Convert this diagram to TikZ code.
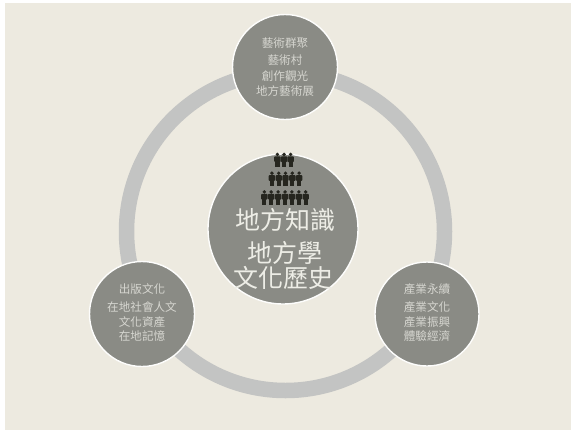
\documentclass[tikz,border=0pt]{standalone}
\usepackage{fontspec}
\usetikzlibrary{calc}
\newfontfamily\cjk{Noto Sans CJK TC}
\definecolor{pagebg}{HTML}{EDEAE0}
\definecolor{ringgray}{HTML}{C3C4C3}
\definecolor{discgray}{HTML}{8A8B85}
\definecolor{smalltext}{HTML}{D6D6D0}
\definecolor{bigtext}{HTML}{EDEDE6}
\definecolor{peoplecol}{HTML}{26261F}
\tikzset{
  x=1pt,y=-1pt,
  ringline/.style={draw=ringgray,line width=15.5pt,fill=none,circle,inner sep=0pt,minimum size=318pt},
  disc/.style={circle,draw=white!90!pagebg,line width=1.4pt,fill=discgray,inner sep=0pt,minimum size=#1},
  smalllabel/.style={font=\cjk\fontsize{11.6}{14}\selectfont,text=smalltext,inner sep=0pt},
  biglabel/.style={font=\cjk\fontsize{25}{30}\selectfont,text=bigtext,inner sep=0pt},
  person/.pic={
    \fill[peoplecol] (0,-5.6) circle (1.9);
    \fill[peoplecol,rounded corners=0.8] (-3.2,-3.6) rectangle (3.2,2);
    \fill[peoplecol] (-2.1,1) rectangle (2.1,7.4);
  }
}
\begin{document}
\begin{tikzpicture}
\useasboundingbox (0,0) rectangle (572,431);
\fill[white] (0,0) rectangle (572,431);
\fill[pagebg] (5,3) rectangle (571,430);
\node[ringline] (ring) at (285.5,231.5) {};
\node[disc=105pt] (top) at (285,67) {};
\node[disc=105pt] (left) at (142,314) {};
\node[disc=104pt] (right) at (427,314) {};
\node[disc=150pt] (hub) at (283,229) {};
% people
\foreach \i in {-1,0,1} \pic at ($(284,160)+(\i*6.6,0)$) {person};
\foreach \i in {-2,...,2} \pic at ($(285.5,178.8)+(\i*6.8,0)$) {person};
\foreach \i in {-3,...,3} \pic at ($(285,197.5)+(\i*6.9,0)$) {person};
% hub text
\node[biglabel] (h1) at (285,220) {地方知識};
\node[biglabel] (h2) at (285,253) {地方學};
\node[biglabel] (h3) at (283,278) {文化歷史};
% top
\node[smalllabel] (t1) at (285,43) {藝術群聚};
\node[smalllabel] (t2) at (285,60) {藝術村};
\node[smalllabel] (t3) at (285,76) {創作觀光};
\node[smalllabel] (t4) at (285,91) {地方藝術展};
% left
\node[smalllabel] (l1) at (142,289) {出版文化};
\node[smalllabel] (l2) at (142,307) {在地社會人文};
\node[smalllabel] (l3) at (142,322) {文化資產};
\node[smalllabel] (l4) at (142,336) {在地記憶};
% right
\node[smalllabel] (r1) at (427,289) {產業永續};
\node[smalllabel] (r2) at (427,307) {產業文化};
\node[smalllabel] (r3) at (427,322) {產業振興};
\node[smalllabel] (r4) at (427,336) {體驗經濟};
\end{tikzpicture}
\end{document}
